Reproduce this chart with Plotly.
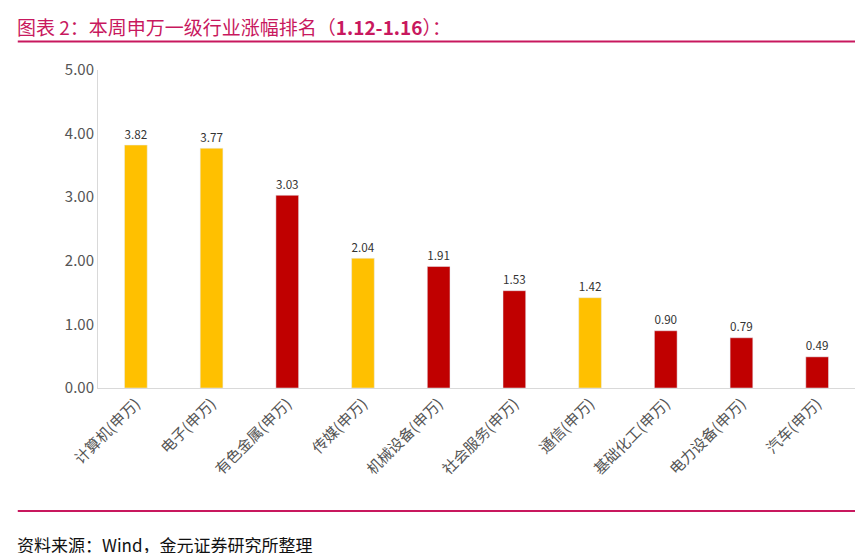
import plotly.graph_objects as go

categories = ["计算机(申万)", "电子(申万)", "有色金属(申万)", "传媒(申万)", "机械设备(申万)",
              "社会服务(申万)", "通信(申万)", "基础化工(申万)", "电力设备(申万)", "汽车(申万)"]
values = [3.82, 3.77, 3.03, 2.04, 1.91, 1.53, 1.42, 0.90, 0.79, 0.49]
bar_colors = ["#FFC000", "#FFC000", "#C00000", "#FFC000", "#C00000",
              "#C00000", "#FFC000", "#C00000", "#C00000", "#C00000"]
yticks = [0, 1, 2, 3, 4, 5]

font = "Noto Sans CJK SC"
fig = go.Figure(go.Bar(
    x=categories, y=values, marker_color=bar_colors, width=0.3,
    text=[f"{v:.2f}" for v in values], textposition="outside",
    textfont=dict(size=17, color="#333333", family=font), cliponaxis=False))

fig.update_layout(
    width=867, height=553, plot_bgcolor="white", paper_bgcolor="white",
    margin=dict(l=90, r=20, t=62, b=173, autoexpand=False), showlegend=False, bargap=0.5,
    font=dict(family=font, color="#555555"),
    xaxis=dict(tickangle=-45, tickfont=dict(size=15, color="#555555"), automargin=False,
               showline=True, linecolor="#D9D9D9", ticks=""),
    yaxis=dict(range=[0, 5], tickvals=yticks, ticktext=[f"{t:.2f}" for t in yticks], automargin=False,
               tickfont=dict(size=15, color="#555555"), showgrid=False,
               showline=True, linecolor="#D9D9D9", zeroline=False),
    shapes=[
        dict(type="line", xref="paper", yref="paper", x0=-0.106, x1=1.0, y0=1.09, y1=1.09,
             line=dict(color="#C8185E", width=2)),
        dict(type="line", xref="paper", yref="paper", x0=-0.106, x1=1.0, y0=-0.387, y1=-0.387,
             line=dict(color="#C8185E", width=2)),
    ],
    annotations=[
        dict(text="图表 2：本周申万一级行业涨幅排名（<b>1.12-1.16</b>）：", xref="paper", yref="paper",
             x=-0.11, y=1.185, xanchor="left", yanchor="top", showarrow=False,
             font=dict(size=19, color="#C8185E", family=font)),
        dict(text="资料来源：Wind，金元证券研究所整理", xref="paper", yref="paper",
             x=-0.11, y=-0.445, xanchor="left", yanchor="top", showarrow=False,
             font=dict(size=17, color="#111111", family=font)),
    ],
)
fig.write_html("out.html")
